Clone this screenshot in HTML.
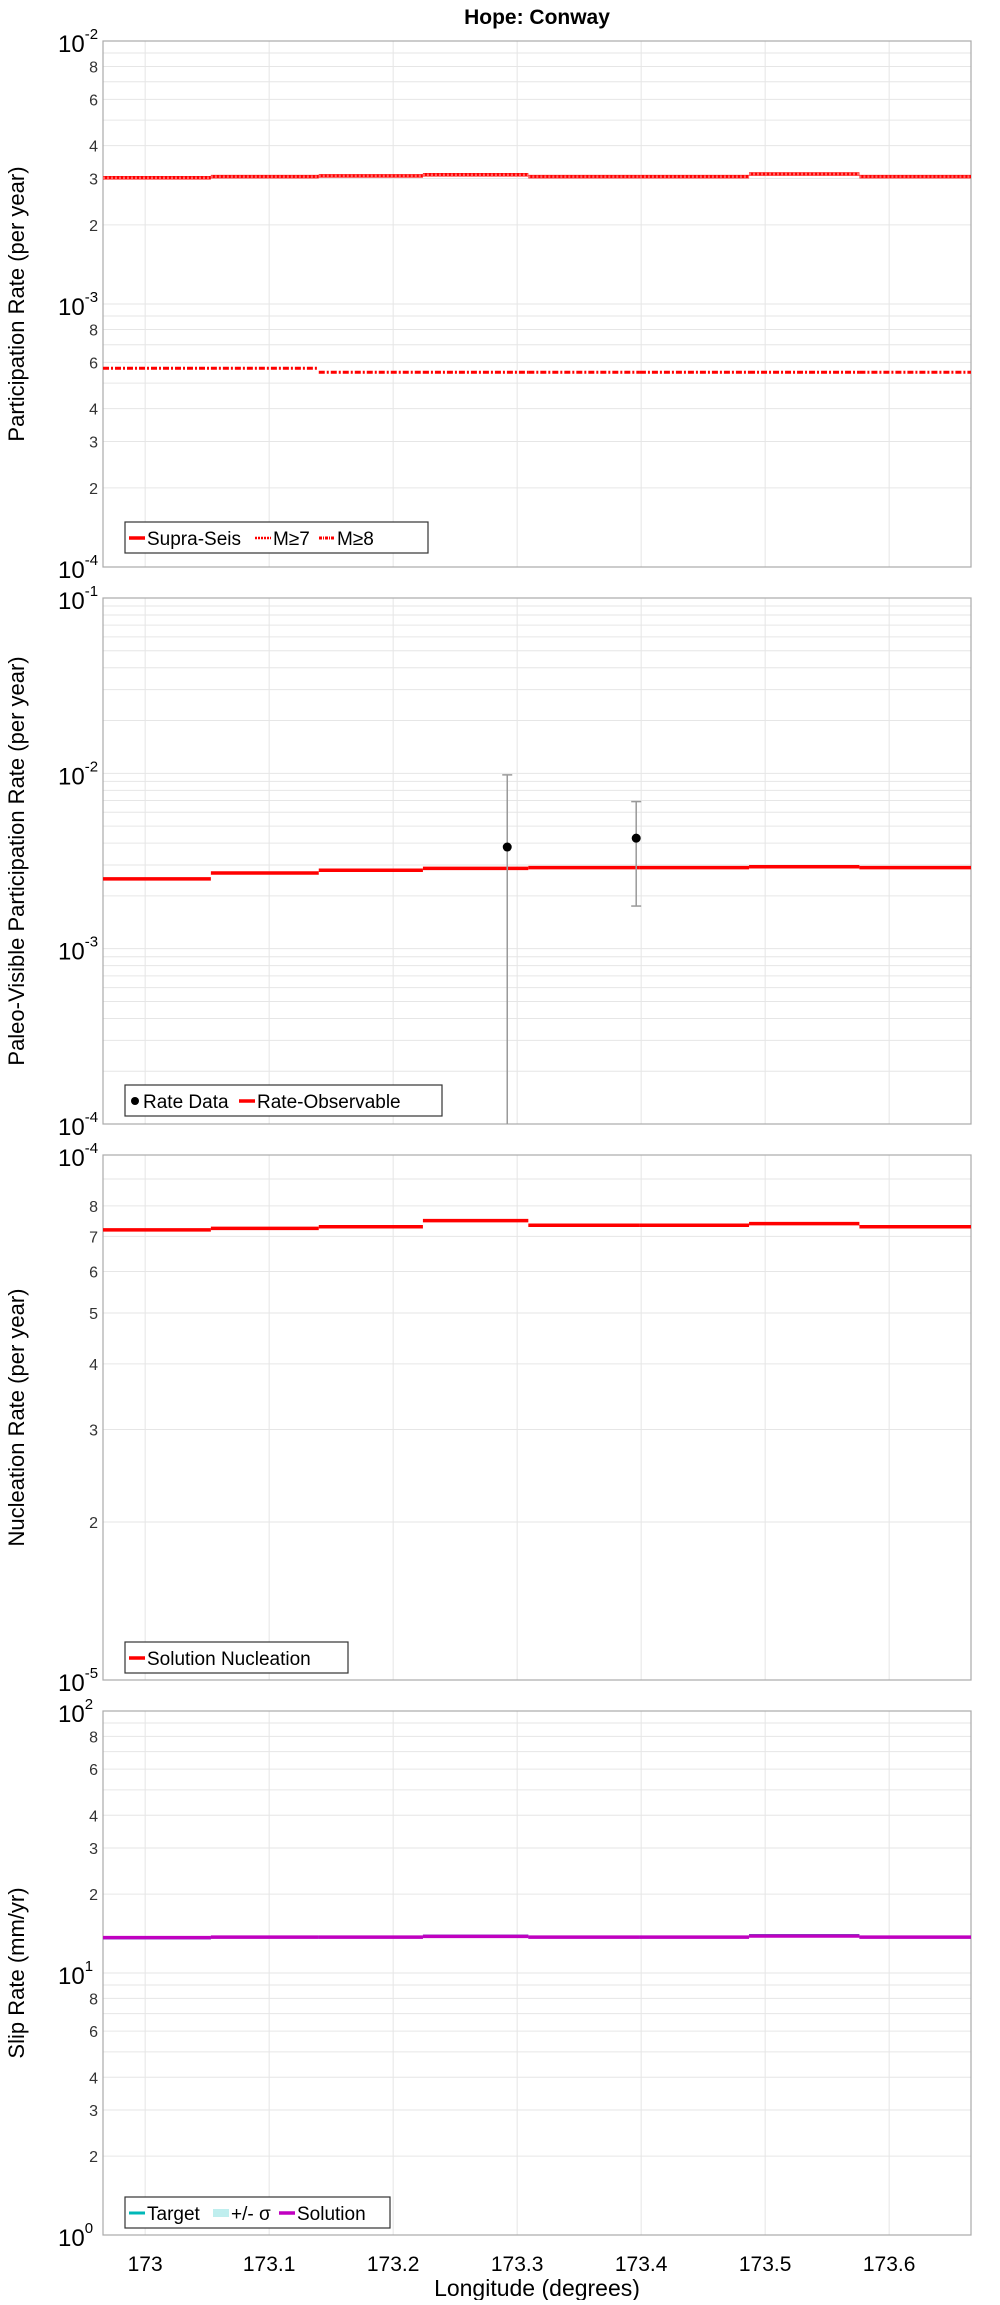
<!DOCTYPE html>
<html><head><meta charset="utf-8"><style>
body{margin:0;background:#fff;}
svg text{font-family:"Liberation Sans",sans-serif;}
</style></head><body>
<svg id="c" width="1000" height="2300" xmlns="http://www.w3.org/2000/svg">
<text x="537" y="24" text-anchor="middle" font-size="21" font-weight="bold">Hope: Conway</text>
</svg>
<script>
const NS="http://www.w3.org/2000/svg";
const svg=document.getElementById('c');
const xTicks=[173,173.1,173.2,173.3,173.4,173.5,173.6];
const xTickLabels=["173","173.1","173.2","173.3","173.4","173.5","173.6"];
const segEdges=[172.966,173.053,173.140,173.224,173.309,173.399,173.487,173.576,173.666];
const supraSeis=[3.02e-3,3.05e-3,3.07e-3,3.1e-3,3.05e-3,3.05e-3,3.12e-3,3.05e-3];
const m7=[3.02e-3,3.05e-3,3.07e-3,3.1e-3,3.05e-3,3.05e-3,3.12e-3,3.05e-3];
const m8=[5.7e-4,5.7e-4,5.5e-4,5.5e-4,5.5e-4,5.5e-4,5.5e-4,5.5e-4];
const rateObs=[2.5e-3,2.7e-3,2.8e-3,2.87e-3,2.9e-3,2.9e-3,2.93e-3,2.9e-3];
const rateDataX=[173.292,173.396];
const rateDataY=[3.8e-3,4.27e-3];
const rateDataLo=[1e-4,1.75e-3];
const rateDataHi=[9.8e-3,6.9e-3];
const nucleation=[7.2e-5,7.25e-5,7.3e-5,7.5e-5,7.35e-5,7.35e-5,7.4e-5,7.3e-5];
const slipTarget=[13.6,13.7,13.7,13.85,13.7,13.7,13.9,13.7];
const slipSolution=[13.65,13.7,13.7,13.8,13.7,13.7,13.85,13.7];

const L=103,R=971;
const xMin=172.966,xMax=173.666;
function X(v){return L+(v-xMin)/(xMax-xMin)*(R-L);}
function el(t,a,p){const e=document.createElementNS(NS,t);for(const k in a)e.setAttribute(k,a[k]);(p||svg).appendChild(e);return e;}

const panels=[
 {top:41,bot:567,lo:-4,hi:-2,minorLabels:[2,3,4,6,8],title:"Participation Rate (per year)",name:"participation"},
 {top:598,bot:1124,lo:-4,hi:-1,minorLabels:[],title:"Paleo-Visible Participation Rate (per year)",name:"paleo"},
 {top:1155,bot:1680,lo:-5,hi:-4,minorLabels:[2,3,4,5,6,7,8],title:"Nucleation Rate (per year)",name:"nucleation"},
 {top:1711,bot:2235,lo:0,hi:2,minorLabels:[2,3,4,6,8],title:"Slip Rate (mm/yr)",name:"slip"}
];
function mkY(p){return v=>p.bot-(Math.log10(v)-p.lo)/(p.hi-p.lo)*(p.bot-p.top);}

panels.forEach((p,pi)=>{
 const Y=mkY(p);
 const g=el('g',{});
 
 
 // grid
 for(let d=p.lo;d<p.hi;d++){for(let m=1;m<10;m++){const v=m*Math.pow(10,d);const y=Y(v);
  const ln=el('line',{x1:L,x2:R,y1:y,y2:y,stroke:'#e6e6e6','stroke-width':1},g);
  }}
 xTicks.forEach(t=>{const x=X(t);const ln=el('line',{x1:x,x2:x,y1:p.top,y2:p.bot,stroke:'#e6e6e6','stroke-width':1},g);
  });
 const fr=el('rect',{x:L,y:p.top,width:R-L,height:p.bot-p.top,fill:'none',stroke:'#aaa','stroke-width':1.2},g);
 
 // y labels
 for(let d=p.lo;d<=p.hi;d++){const y=Y(Math.pow(10,d));
  const t=el('text',{x:58,y:y+11,'font-size':24},g);t.textContent='10';
  const s=el('tspan',{dy:-13,'font-size':15},t);s.textContent=String(d);
  
  if(d<p.hi){p.minorLabels.forEach(m=>{const yy=Y(m*Math.pow(10,d));
   const tt=el('text',{x:98,y:yy+6,'font-size':16,'text-anchor':'end',fill:'#333'},g);tt.textContent=String(m);
   });}
 }
 const yc=(p.top+p.bot)/2;
 const yt=el('text',{x:0,y:0,'font-size':22,'text-anchor':'middle',transform:`translate(24,${yc}) rotate(-90)`},g);
 yt.textContent=p.title;
});

function steps(arr,p,attrs,name){const Y=mkY(p);
 arr.forEach((v,i)=>{const l=el('line',Object.assign({x1:X(segEdges[i]),x2:X(segEdges[i+1]),y1:Y(v),y2:Y(v)},attrs));
  });}
steps(supraSeis,panels[0],{stroke:'#f00','stroke-width':3.5},'supra-seis-segment');
steps(m7,panels[0],{stroke:'#f66','stroke-width':2.5,'stroke-dasharray':'2,2'},'m7-segment');
steps(m8,panels[0],{stroke:'#f00','stroke-width':3,'stroke-dasharray':'6,2,2,2'},'m8-segment');
steps(rateObs,panels[1],{stroke:'#f00','stroke-width':3.5},'rate-observable-segment');
steps(nucleation,panels[2],{stroke:'#f00','stroke-width':3.5},'nucleation-segment');
steps(slipTarget,panels[3],{stroke:'#00b8b8','stroke-width':3},'slip-target-segment');
steps(slipSolution,panels[3],{stroke:'#c000c0','stroke-width':3.5},'slip-solution-segment');
{const p=panels[1],Y=mkY(p);
 rateDataX.forEach((x,i)=>{const px=X(x);
  const e=el('line',{x1:px,x2:px,y1:Y(rateDataHi[i]),y2:Math.min(Y(rateDataLo[i]),p.bot),stroke:'#999','stroke-width':1.5});
  
  [rateDataHi[i],rateDataLo[i]].forEach(v=>{const yy=Y(v);if(yy<p.bot){const c=el('line',{x1:px-5,x2:px+5,y1:yy,y2:yy,stroke:'#999','stroke-width':1.5});
   }});
  const d=el('circle',{cx:px,cy:Y(rateDataY[i]),r:4.5,fill:'#000'});
  });}

// x tick labels
xTicks.forEach((t,i)=>{const tx=el('text',{x:X(t),y:2271,'font-size':21,'text-anchor':'middle'});tx.textContent=xTickLabels[i];
 });
const xt=el('text',{x:537,y:2296,'font-size':23,'text-anchor':'middle'});xt.textContent='Longitude (degrees)';


// legends
function legend(name,y,w,items){const g=el('g',{});
 const r=el('rect',{x:125,y:y,width:w,height:31,fill:'#fff',stroke:'#333','stroke-width':1.2},g);
 let x=129;items.forEach(it=>{
  if(it.dot){el('circle',{cx:x+6,cy:y+16,r:4,fill:'#000'},g);x+=14;}
  else{el('line',Object.assign({x1:x,x2:x+16,y1:y+16,y2:y+16},it.st),g);x+=18;}
  const t=el('text',{x:x,y:y+23,'font-size':19},g);t.textContent=it.label;
  
  x+=it.w;});}
legend('legend-participation',522,303,[{label:'Supra-Seis',w:108,st:{stroke:'#f00','stroke-width':3.5}},{label:'M≥7',w:46,st:{stroke:'#f00','stroke-width':2.5,'stroke-dasharray':'2,1'}},{label:'M≥8',w:50,st:{stroke:'#f00','stroke-width':3,'stroke-dasharray':'3,1,1,1'}}]);
legend('legend-paleo',1085,317,[{label:'Rate Data',dot:true,w:96},{label:'Rate-Observable',w:160,st:{stroke:'#f00','stroke-width':3.5}}]);
legend('legend-nucleation',1642,223,[{label:'Solution Nucleation',w:190,st:{stroke:'#f00','stroke-width':3.5}}]);
legend('legend-slip',2197,265,[{label:'Target',w:66,st:{stroke:'#00b8b8','stroke-width':3}},{label:'+/- σ',w:48,st:{stroke:'#bfeeee','stroke-width':8,'stroke-dasharray':'0'}},{label:'Solution',w:90,st:{stroke:'#c000c0','stroke-width':3.5}}]);
</script>
</body></html>
